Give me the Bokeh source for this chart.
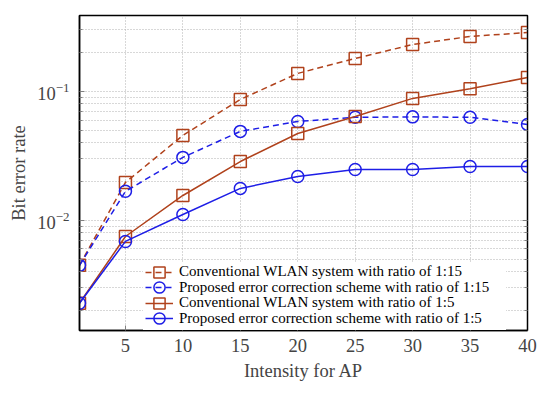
from bokeh.plotting import figure
from bokeh.models import FixedTicker, LogAxis, Legend, LegendItem
from bokeh.embed import file_html
from bokeh.resources import INLINE

# ---- data ----
intensity = [1, 5, 10, 15, 20, 25, 30, 35, 40]
conv_1_15 = [0.00448, 0.0197, 0.0456, 0.0867, 0.138, 0.180, 0.231, 0.267, 0.286]
prop_1_15 = [0.00448, 0.0168, 0.0308, 0.0490, 0.0585, 0.0630, 0.0635, 0.0630, 0.0555]
conv_1_5 = [0.00228, 0.0075, 0.0156, 0.0286, 0.0472, 0.0640, 0.0883, 0.105, 0.128]
prop_1_5 = [0.00228, 0.00687, 0.0111, 0.0177, 0.0219, 0.0248, 0.0248, 0.0262, 0.0262]

x_ticks = [5, 10, 15, 20, 25, 30, 35, 40]
y_major = [0.01, 0.1]
y_minor = [0.002, 0.003, 0.004, 0.005, 0.006, 0.007, 0.008, 0.009,
           0.02, 0.03, 0.04, 0.05, 0.06, 0.07, 0.08, 0.09,
           0.2, 0.3, 0.4]

labels = ["Conventional WLAN system with ratio of 1:15",
          "Proposed error correction scheme with ratio of 1:15",
          "Conventional WLAN system with ratio of 1:5",
          "Proposed error correction scheme with ratio of 1:5"]

BROWN = "#b0421c"
BLUE = "#1e1ee6"
FONT = "Liberation Serif"

p = figure(width=542, height=386, y_axis_type="log",
           x_range=(1, 40), y_range=(0.0014, 0.388),
           output_backend="svg", toolbar_location=None,
           min_border_left=79, min_border_right=15,
           min_border_top=15, min_border_bottom=56,
           x_axis_label="Intensity for AP", y_axis_label="Bit error rate")

p.outline_line_color = "black"
p.outline_line_width = 1.5
p.background_fill_color = "white"
p.border_fill_color = "white"

series = [
    (conv_1_15, BROWN, "dashed", "square", labels[0]),
    (prop_1_15, BLUE, "dashed", "circle", labels[1]),
    (conv_1_5, BROWN, "solid", "square", labels[2]),
    (prop_1_5, BLUE, "solid", "circle", labels[3]),
]

renderers = []
for ys, col, dash, mk, lab in series:
    r1 = p.line(intensity, ys, line_color=col, line_width=1.5,
                line_dash=("6 4" if dash == "dashed" else "solid"))
    r2 = p.scatter(intensity, ys, marker=mk, size=12, line_color=col,
                   line_width=1.5, fill_color=None)
    renderers.append((lab, [r1, r2]))

# white backdrop for the legend area (one invisible glyph box, blank label)
dummy = p.line(x=[], y=[], line_alpha=0)
base = Legend(items=[LegendItem(label=" ", renderers=[dummy])], location=(64, 0))
base.label_text_font_size = "1px"
base.label_text_alpha = 0
base.glyph_width = 362
base.glyph_height = 68
base.label_height = 1
base.label_width = 1
base.label_standoff = 0
base.spacing = 0
base.padding = 0
base.margin = 0
base.border_line_color = None
base.background_fill_color = "white"
base.background_fill_alpha = 1.0
p.add_layout(base, "center")

# one legend per row, so rows can sit closer than the glyph box
row_offsets = [44.5, 29, 13.5, -2]
for (lab, rs), yoff in zip(renderers, row_offsets):
    lg = Legend(items=[LegendItem(label=lab, renderers=rs)], location=(66, yoff))
    lg.label_text_font = FONT
    lg.label_text_font_size = "15px"
    lg.label_text_color = "black"
    lg.glyph_width = 28
    lg.glyph_height = 28
    lg.label_height = 15
    lg.spacing = 0
    lg.padding = 0
    lg.margin = 0
    lg.label_standoff = 6
    lg.border_line_color = None
    lg.background_fill_alpha = 0
    p.add_layout(lg, "center")

# axes
xa = p.xaxis[0]
xa.ticker = FixedTicker(ticks=x_ticks)
ya = p.yaxis[0]
ya.ticker = FixedTicker(ticks=y_major, minor_ticks=y_minor)

for ax in (xa, ya):
    ax.axis_label_text_font = FONT
    ax.axis_label_text_font_size = "18.5px"
    ax.axis_label_text_font_style = "normal"
    ax.major_label_text_font = FONT
    ax.major_label_text_font_size = "18.5px"
    ax.axis_line_color = "black"
    ax.axis_line_width = 1.5
    ax.major_tick_in = 5
    ax.major_tick_out = 0
    ax.minor_tick_in = 3
    ax.minor_tick_out = 0
    ax.major_tick_line_color = "#808080"
    ax.minor_tick_line_color = "#808080"

xa.major_label_standoff = 8
xa.axis_label_standoff = 6
ya.major_label_standoff = 10
ya.axis_label_standoff = 5

# right axis (ticks only)
ra = LogAxis(ticker=FixedTicker(ticks=y_major, minor_ticks=y_minor))
ra.major_label_text_font_size = "0px"
ra.major_label_text_color = None
ra.major_tick_in = 5
ra.major_tick_out = 0
ra.minor_tick_in = 3
ra.minor_tick_out = 0
ra.axis_line_color = "black"
ra.major_tick_line_color = "#808080"
ra.minor_tick_line_color = "#808080"
p.add_layout(ra, "right")

# grid
p.xgrid.ticker = FixedTicker(ticks=x_ticks)
p.xgrid.grid_line_color = "#b0b0b0"
p.xgrid.grid_line_dash = "1 2"
p.xgrid.grid_line_width = 1
p.ygrid.ticker = FixedTicker(ticks=y_major, minor_ticks=y_minor)
p.ygrid.grid_line_color = "#b0b0b0"
p.ygrid.grid_line_dash = "1 2"
p.ygrid.minor_grid_line_color = "#b0b0b0"
p.ygrid.minor_grid_line_dash = "1 2"

open("out.html", "w").write(file_html(p, INLINE))
